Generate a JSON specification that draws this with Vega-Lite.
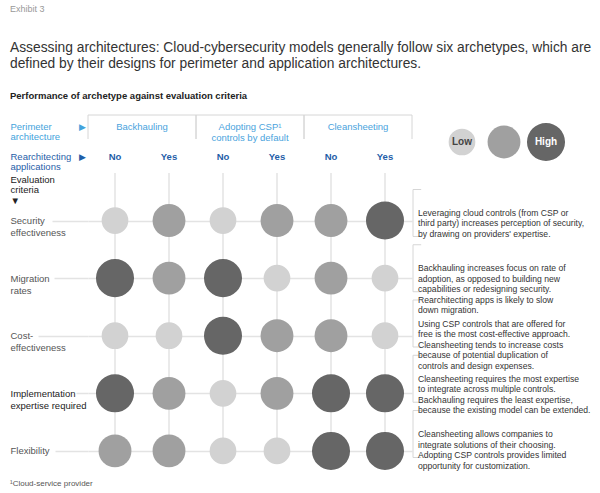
{
  "$schema": "https://vega.github.io/schema/vega-lite/v6.json",
  "padding": {"left": 10, "top": 4, "right": 2, "bottom": 4},
  "background": "white",
  "config": {"font": "Liberation Sans", "view": {"stroke": null}},
  "title": {
    "text": "Exhibit 3",
    "subtitle": ["Assessing architectures: Cloud-cybersecurity models generally follow six archetypes, which are", "defined by their designs for perimeter and application architectures."],
    "anchor": "start", "frame": "bounds", "fontSize": 9, "fontWeight": "normal", "color": "#999999",
    "subtitleFontSize": 13.8, "subtitleColor": "#333333", "subtitlePadding": 27, "subtitleLineHeight": 16, "offset": 20
  },
  "datasets": {
    "grid": [
      {"perimeter": "Backhauling", "rearch": "No", "criterion": "Security\neffectiveness", "rating": "Low"},
      {"perimeter": "Backhauling", "rearch": "Yes", "criterion": "Security\neffectiveness", "rating": "Medium"},
      {"perimeter": "Adopting CSP¹\ncontrols by default", "rearch": "No", "criterion": "Security\neffectiveness", "rating": "Low"},
      {"perimeter": "Adopting CSP¹\ncontrols by default", "rearch": "Yes", "criterion": "Security\neffectiveness", "rating": "Medium"},
      {"perimeter": "Cleansheeting", "rearch": "No", "criterion": "Security\neffectiveness", "rating": "Medium"},
      {"perimeter": "Cleansheeting", "rearch": "Yes", "criterion": "Security\neffectiveness", "rating": "High"},
      {"perimeter": "Backhauling", "rearch": "No", "criterion": "Migration\nrates", "rating": "High"},
      {"perimeter": "Backhauling", "rearch": "Yes", "criterion": "Migration\nrates", "rating": "Medium"},
      {"perimeter": "Adopting CSP¹\ncontrols by default", "rearch": "No", "criterion": "Migration\nrates", "rating": "High"},
      {"perimeter": "Adopting CSP¹\ncontrols by default", "rearch": "Yes", "criterion": "Migration\nrates", "rating": "Low"},
      {"perimeter": "Cleansheeting", "rearch": "No", "criterion": "Migration\nrates", "rating": "Medium"},
      {"perimeter": "Cleansheeting", "rearch": "Yes", "criterion": "Migration\nrates", "rating": "Low"},
      {"perimeter": "Backhauling", "rearch": "No", "criterion": "Cost-\neffectiveness", "rating": "Low"},
      {"perimeter": "Backhauling", "rearch": "Yes", "criterion": "Cost-\neffectiveness", "rating": "Low"},
      {"perimeter": "Adopting CSP¹\ncontrols by default", "rearch": "No", "criterion": "Cost-\neffectiveness", "rating": "High"},
      {"perimeter": "Adopting CSP¹\ncontrols by default", "rearch": "Yes", "criterion": "Cost-\neffectiveness", "rating": "Medium"},
      {"perimeter": "Cleansheeting", "rearch": "No", "criterion": "Cost-\neffectiveness", "rating": "Medium"},
      {"perimeter": "Cleansheeting", "rearch": "Yes", "criterion": "Cost-\neffectiveness", "rating": "Low"},
      {"perimeter": "Backhauling", "rearch": "No", "criterion": "Implementation\nexpertise required", "rating": "High"},
      {"perimeter": "Backhauling", "rearch": "Yes", "criterion": "Implementation\nexpertise required", "rating": "Medium"},
      {"perimeter": "Adopting CSP¹\ncontrols by default", "rearch": "No", "criterion": "Implementation\nexpertise required", "rating": "Low"},
      {"perimeter": "Adopting CSP¹\ncontrols by default", "rearch": "Yes", "criterion": "Implementation\nexpertise required", "rating": "Medium"},
      {"perimeter": "Cleansheeting", "rearch": "No", "criterion": "Implementation\nexpertise required", "rating": "High"},
      {"perimeter": "Cleansheeting", "rearch": "Yes", "criterion": "Implementation\nexpertise required", "rating": "High"},
      {"perimeter": "Backhauling", "rearch": "No", "criterion": "Flexibility", "rating": "Medium"},
      {"perimeter": "Backhauling", "rearch": "Yes", "criterion": "Flexibility", "rating": "Medium"},
      {"perimeter": "Adopting CSP¹\ncontrols by default", "rearch": "No", "criterion": "Flexibility", "rating": "Low"},
      {"perimeter": "Adopting CSP¹\ncontrols by default", "rearch": "Yes", "criterion": "Flexibility", "rating": "Low"},
      {"perimeter": "Cleansheeting", "rearch": "No", "criterion": "Flexibility", "rating": "High"},
      {"perimeter": "Cleansheeting", "rearch": "Yes", "criterion": "Flexibility", "rating": "High"}
    ],
    "groups": [
      {"perimeter": "Backhauling"},
      {"perimeter": "Adopting CSP¹\ncontrols by default"},
      {"perimeter": "Cleansheeting"}
    ],
    "columns": [
      {"perimeter": "Backhauling", "rearch": "No"},
      {"perimeter": "Backhauling", "rearch": "Yes"},
      {"perimeter": "Adopting CSP¹\ncontrols by default", "rearch": "No"},
      {"perimeter": "Adopting CSP¹\ncontrols by default", "rearch": "Yes"},
      {"perimeter": "Cleansheeting", "rearch": "No"},
      {"perimeter": "Cleansheeting", "rearch": "Yes"}
    ],
    "headers": [
      {"header": "Perimeter\narchitecture"},
      {"header": "Rearchitecting\napplications"}
    ],
    "legend": [
      {"rating": "Low"},
      {"rating": "Medium"},
      {"rating": "High"}
    ],
    "desc": [
      {"criterion": "Security\neffectiveness", "text": "Leveraging cloud controls (from CSP or\nthird party) increases perception of security,\nby drawing on providers' expertise."},
      {"criterion": "Migration\nrates", "text": "Backhauling increases focus on rate of\nadoption, as opposed to building new\ncapabilities or redesigning security.\nRearchitecting apps is likely to slow\ndown migration."},
      {"criterion": "Cost-\neffectiveness", "text": "Using CSP controls that are offered for\nfree is the most cost-effective approach.\nCleansheeting tends to increase costs\nbecause of potential duplication of\ncontrols and design expenses."},
      {"criterion": "Implementation\nexpertise required", "text": "Cleansheeting requires the most expertise\nto integrate across multiple controls.\nBackhauling requires the least expertise,\nbecause the existing model can be extended."},
      {"criterion": "Flexibility", "text": "Cleansheeting allows companies to\nintegrate solutions of their choosing.\nAdopting CSP controls provides limited\nopportunity for customization."}
    ]
  },
  "spacing": 0,
  "vconcat": [
    {
      "title": {"text": "Performance of archetype against evaluation criteria", "anchor": "start", "frame": "bounds", "fontSize": 9.5, "fontWeight": "bold", "color": "#222222", "offset": 12},
      "spacing": 28,
      "hconcat": [
        {
          "width": 324, "height": 60,
          "layer": [
            {
              "data": {"name": "groups"},
              "mark": {"type": "rect", "filled": false, "color": "#d6d6d6", "strokeWidth": 1, "strokeDash": [132, 108, 24]},
              "encoding": {
                "x": {"field": "perimeter", "type": "nominal", "sort": ["Backhauling", "Adopting CSP¹\ncontrols by default", "Cleansheeting"], "scale": {"paddingInner": 0, "paddingOuter": 0}, "axis": null},
                "y": {"datum": "Perimeter\narchitecture", "type": "nominal", "scale": {"domain": ["Perimeter\narchitecture", "Rearchitecting\napplications"], "paddingInner": 0.2, "paddingOuter": 0.1}}
              }
            },
            {
              "data": {"name": "groups"},
              "mark": {"type": "text", "baseline": "top", "dy": -5, "fontSize": 9.5, "color": "#4aa3dd", "lineBreak": "\n", "lineHeight": 11},
              "encoding": {
                "x": {"field": "perimeter", "type": "nominal", "sort": ["Backhauling", "Adopting CSP¹\ncontrols by default", "Cleansheeting"], "axis": null},
                "y": {"datum": "Perimeter\narchitecture", "type": "nominal"},
                "text": {"field": "perimeter"}
              }
            },
            {
              "data": {"name": "columns"},
              "mark": {"type": "text", "baseline": "middle", "fontSize": 9.5, "fontWeight": "bold", "color": "#1f5ea8"},
              "encoding": {
                "x": {"field": "perimeter", "type": "nominal", "sort": ["Backhauling", "Adopting CSP¹\ncontrols by default", "Cleansheeting"], "axis": null},
                "xOffset": {"field": "rearch", "type": "nominal", "sort": ["No", "Yes"]},
                "y": {"datum": "Rearchitecting\napplications", "type": "nominal"},
                "text": {"field": "rearch"}
              }
            },
            {
              "data": {"name": "headers"},
              "mark": {"type": "text", "text": "▶", "align": "right", "baseline": "middle", "dx": -2, "fontSize": 9},
              "encoding": {
                "x": {"datum": "Backhauling", "type": "nominal", "bandPosition": 0},
                "y": {"field": "header", "type": "nominal", "axis": {
                  "title": null, "labelExpr": "split(datum.label, '\\n')", "labelAlign": "left", "labelBaseline": "middle",
                  "labelPadding": 78, "ticks": false, "domain": false, "labelFontSize": 9.5, "labelLineHeight": 10,
                  "labelColor": {"condition": {"test": "indexof(datum.value,'Rear')==0", "value": "#1f5ea8"}, "value": "#44a3dc"}
                }},
                "color": {"condition": {"test": "indexof(datum.header,'Rear')==0", "value": "#1f5ea8"}, "value": "#44a3dc"}
              }
            }
          ]
        },
        {
          "width": 126, "height": 60,
          "data": {"name": "legend"},
          "layer": [
            {
              "mark": {"type": "circle", "opacity": 1},
              "encoding": {
                "x": {"field": "rating", "type": "nominal", "sort": ["Low", "Medium", "High"], "scale": {"type": "point", "padding": 0.5}, "axis": null},
                "size": {"field": "rating", "type": "ordinal", "scale": {"domain": ["Low", "Medium", "High"], "range": [713, 1447, 2181]}, "legend": null},
                "color": {"field": "rating", "type": "ordinal", "scale": {"domain": ["Low", "Medium", "High"], "range": ["#d2d2d2", "#a0a0a0", "#666666"]}, "legend": null}
              }
            },
            {
              "mark": {"type": "text", "fontSize": 10, "fontWeight": "bold", "baseline": "middle"},
              "encoding": {
                "x": {"field": "rating", "type": "nominal", "sort": ["Low", "Medium", "High"], "axis": null},
                "text": {"condition": {"test": "datum.rating != 'Medium'", "field": "rating"}, "value": ""},
                "color": {"condition": {"test": "datum.rating == 'High'", "value": "#ffffff"}, "value": "#444444"}
              }
            }
          ]
        }
      ]
    },
    {
      "title": {"text": "¹Cloud-service provider", "orient": "bottom", "anchor": "start", "frame": "bounds", "fontSize": 8, "fontWeight": "normal", "color": "#555555", "offset": 10},
      "spacing": 0,
      "hconcat": [
        {
          "width": 324, "height": 288,
          "layer": [
            {
              "data": {"name": "columns"},
              "mark": {"type": "rule", "color": "#e3e3e3", "strokeWidth": 1.5},
              "encoding": {
                "x": {"field": "perimeter", "type": "nominal", "sort": ["Backhauling", "Adopting CSP¹\ncontrols by default", "Cleansheeting"], "scale": {"paddingInner": 0, "paddingOuter": 0}, "axis": null},
                "xOffset": {"field": "rearch", "type": "nominal", "sort": ["No", "Yes"]}
              }
            },
            {
              "data": {"name": "grid"},
              "mark": {"type": "circle", "opacity": 1},
              "encoding": {
                "x": {"field": "perimeter", "type": "nominal", "sort": ["Backhauling", "Adopting CSP¹\ncontrols by default", "Cleansheeting"], "axis": null},
                "xOffset": {"field": "rearch", "type": "nominal", "sort": ["No", "Yes"]},
                "y": {"field": "criterion", "type": "nominal",
                  "scale": {"domain": ["Security\neffectiveness", "Migration\nrates", "Cost-\neffectiveness", "Implementation\nexpertise required", "Flexibility"], "paddingInner": 0.15, "paddingOuter": 0.181, "align": 0.825},
                  "axis": {
                    "title": ["Evaluation", "criteria", "▼"], "titleAngle": 0, "titleAlign": "left", "titleBaseline": "top",
                    "titleX": -78, "titleY": 1, "titleFontSize": 9.5, "titleFontWeight": "normal", "titleColor": "#222222", "titleLineHeight": 10.5,
                    "labelExpr": "split(datum.label, '\\n')", "labelAlign": "left", "labelBaseline": "top", "labelOffset": -5,
                    "labelFontSize": 9.5, "labelLineHeight": 12,
                    "labelColor": {"condition": {"test": "indexof(datum.value,'Implementation')==0", "value": "#222222"}, "value": "#555555"},
                    "domain": false, "grid": true, "gridColor": "#e3e3e3", "gridWidth": 1.5,
                    "ticks": true, "tickColor": "#e3e3e3", "tickWidth": 1.5,
                    "tickSize": {"condition": [
                      {"test": "indexof(datum.value,'Security')==0", "value": 36},
                      {"test": "indexof(datum.value,'Migration')==0", "value": 34},
                      {"test": "indexof(datum.value,'Cost')==0", "value": 50},
                      {"test": "indexof(datum.value,'Implementation')==0", "value": 12}
                    ], "value": 33},
                    "labelPadding": {"condition": [
                      {"test": "indexof(datum.value,'Security')==0", "value": 42},
                      {"test": "indexof(datum.value,'Migration')==0", "value": 44},
                      {"test": "indexof(datum.value,'Cost')==0", "value": 28},
                      {"test": "indexof(datum.value,'Implementation')==0", "value": 66}
                    ], "value": 45}
                  }
                },
                "size": {"field": "rating", "type": "ordinal", "scale": {"domain": ["Low", "Medium", "High"], "range": [713, 1447, 2181]}, "legend": null},
                "color": {"field": "rating", "type": "ordinal", "scale": {"domain": ["Low", "Medium", "High"], "range": ["#d2d2d2", "#a0a0a0", "#666666"]}, "legend": null}
              }
            }
          ]
        },
        {
          "width": 182, "height": 288,
          "data": {"name": "desc"},
          "layer": [
            {
              "mark": {"type": "rect", "filled": false, "color": "#d6d6d6", "strokeWidth": 1, "strokeDash": [8.19, 46.97, 55.16]},
              "encoding": {
                "x": {"datum": 0, "type": "quantitative", "scale": {"domain": [0, 1]}, "axis": null},
                "x2": {"datum": 0.045},
                "y": {"field": "criterion", "type": "nominal", "scale": {"domain": ["Security\neffectiveness", "Migration\nrates", "Cost-\neffectiveness", "Implementation\nexpertise required", "Flexibility"], "paddingInner": 0.15, "paddingOuter": 0.181, "align": 0.825}, "axis": null}
              }
            },
            {
              "mark": {"type": "text", "align": "left", "baseline": "middle", "dx": 5, "fontSize": 8.6, "lineHeight": 10.5, "lineBreak": "\n", "color": "#333333"},
              "encoding": {
                "x": {"datum": 0, "type": "quantitative"},
                "y": {"field": "criterion", "type": "nominal"},
                "text": {"field": "text"}
              }
            }
          ]
        }
      ]
    }
  ]
}
